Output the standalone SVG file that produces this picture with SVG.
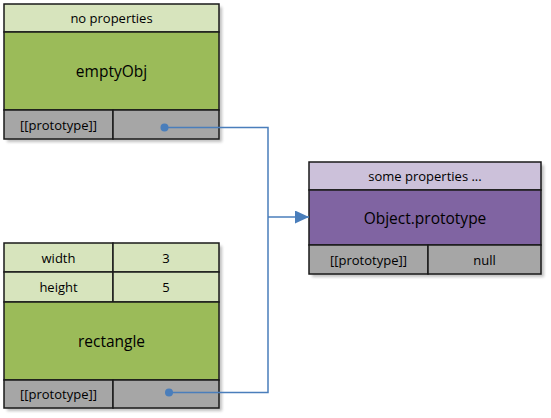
<svg xmlns="http://www.w3.org/2000/svg" width="551" height="418" viewBox="0 0 551 418">
<style>
text{font-family:"Open Sans","Liberation Sans",sans-serif;fill:#000;text-anchor:middle;dominant-baseline:central}
.s{font-size:13px}.b{font-size:15.5px}
.c{stroke:#1a1a1a;stroke-width:1.5}
.lg{fill:#D7E4BD}.g{fill:#9BBB59}.gr{fill:#A6A6A6}.lv{fill:#CCC1DA}.pu{fill:#8064A2}
.sh{fill:#8c8c8c;opacity:0.55;filter:url(#blur)}
.con{fill:none;stroke:#4A7EBB;stroke-width:1.5}
</style>
<defs>
<filter id="blur" x="-10%" y="-10%" width="120%" height="120%"><feGaussianBlur stdDeviation="1.5"/></filter>
<marker id="arr" markerWidth="14" markerHeight="13" refX="14" refY="6.5" orient="auto" markerUnits="userSpaceOnUse" viewBox="0 0 14 13"><path d="M0,0 L14,6.5 L0,13 Z" fill="#4A7EBB"/></marker>
</defs>
<g id="emptyObj">
<rect class="sh" x="7" y="7" width="215" height="135"/>
<rect class="lg c" x="4" y="4" width="215" height="28"/>
<rect class="g c" x="4" y="32" width="215" height="78"/>
<rect class="gr c" x="4" y="110" width="109" height="29"/>
<rect class="gr c" x="113" y="110" width="106" height="29"/>
<text class="s" x="111.5" y="18">no properties</text>
<text class="b" x="111.5" y="71">emptyObj</text>
<text class="s" x="58.5" y="125">[[prototype]]</text>
</g>
<g id="rectangle">
<rect class="sh" x="7" y="246" width="215" height="165"/>
<rect class="lg c" x="4" y="243" width="109" height="29"/>
<rect class="lg c" x="113" y="243" width="106" height="29"/>
<rect class="lg c" x="4" y="272" width="109" height="30"/>
<rect class="lg c" x="113" y="272" width="106" height="30"/>
<rect class="g c" x="4" y="302" width="215" height="78"/>
<rect class="gr c" x="4" y="380" width="109" height="28"/>
<rect class="gr c" x="113" y="380" width="106" height="28"/>
<text class="s" x="58.5" y="258">width</text>
<text class="s" x="166" y="258">3</text>
<text class="s" x="58.5" y="287">height</text>
<text class="s" x="166" y="287">5</text>
<text class="b" x="111.5" y="341">rectangle</text>
<text class="s" x="58.5" y="394">[[prototype]]</text>
</g>
<g id="objectPrototype">
<rect class="sh" x="312" y="165" width="232" height="112"/>
<rect class="lv c" x="309" y="162" width="232" height="28"/>
<rect class="pu c" x="309" y="190" width="232" height="55"/>
<rect class="gr c" x="309" y="245" width="119" height="29"/>
<rect class="gr c" x="428" y="245" width="113" height="29"/>
<text class="s" x="425" y="176">some properties ...</text>
<text class="b" x="425" y="217.5">Object.prototype</text>
<text class="s" x="368.5" y="259.5">[[prototype]]</text>
<text class="s" x="484.5" y="259.5">null</text>
</g>
<g id="connectors">
<circle cx="164.5" cy="127.5" r="4" fill="#4A7EBB"/>
<circle cx="169" cy="392.5" r="4" fill="#4A7EBB"/>
<path class="con" d="M164.5,127.5 H268 V392.5 H169"/>
<path class="con" d="M268,217 H309" marker-end="url(#arr)"/>
</g>
</svg>
